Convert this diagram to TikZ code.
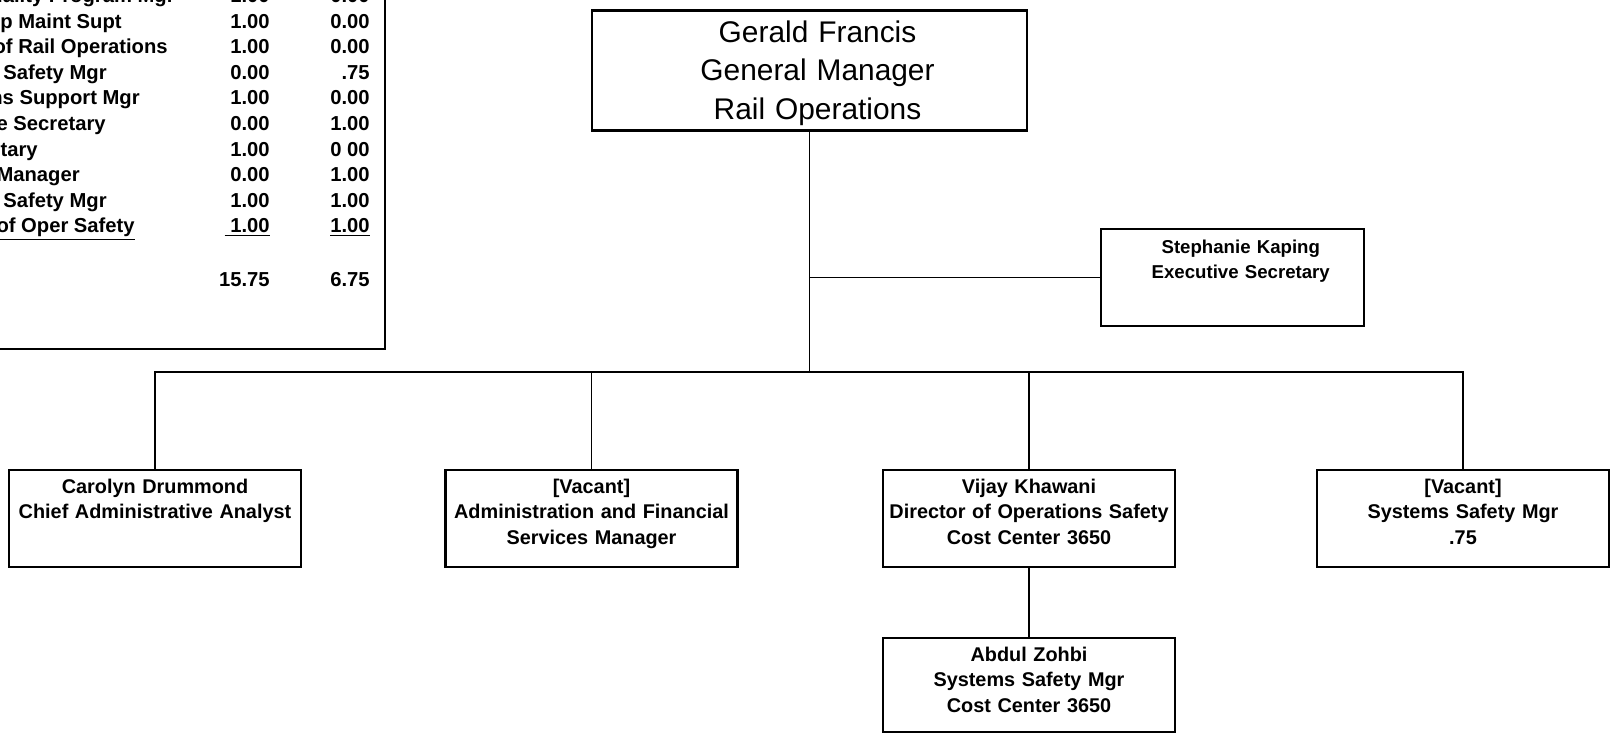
\documentclass[tikz,border=0pt]{standalone}
\usepackage{fontspec}
\setmainfont{Liberation Sans}

\begin{document}
\begin{tikzpicture}[x=0.2mm, y=-0.2mm,
  post/.style={draw, line width=1.2pt, inner xsep=0pt, inner ysep=0pt,
    text width=58.4mm, align=center, text height=4.6mm, text depth=14.8mm,
    font=\fontsize{11.3}{14.6}\selectfont\bfseries},
  cell/.style={inner sep=0pt, anchor=base east,
    font=\fontsize{11.5}{14}\selectfont\bfseries},
  link/.style={line width=0.8pt}]

  \useasboundingbox (0,0) rectangle (1610,732);
  \fill[white] (0,0) rectangle (1610,732);

  % staffing table, cut off at the page edge
  \draw[line width=1.4pt] (-20,-20) rectangle (385,349);
  \foreach \lbl/\xe/\va/\vb [count=\i from 0] in {
      uality Program Mgr/175/1.00/0.00,
      p Maint Supt/122/1.00/0.00,
      of Rail Operations/168/1.00/0.00,
      Safety Mgr/107/0.00/.75,
      ns Support Mgr/140/1.00/0.00,
      e Secretary/106/0.00/1.00,
      etary/38/1.00/0 00,
      Manager/80/0.00/1.00,
      Safety Mgr/107/1.00/1.00,
      \underline{of Oper Safety}/135/\underline{\ 1.00}/\underline{1.00}} {
    \pgfmathsetmacro\yb{2.4+25.6*\i}
    \node[cell] (lbl\i) at (\xe,\yb) {\lbl};
    \node[cell] (va\i) at (270,\yb) {\va};
    \node[cell] (vb\i) at (370,\yb) {\vb};
  }
  \node[cell] (tota) at (270,286) {15.75};
  \node[cell] (totb) at (370,286) {6.75};

  % chart
  \node[post, anchor=north, line width=1.5pt, text width=87mm,
    text height=6.4mm, text depth=17.6mm,
    font=\fontsize{17}{22}\selectfont] (gm) at (809.5,9)
    {\hspace*{3.2mm}Gerald Francis\\\hspace*{3.2mm}General Manager\\
     \hspace*{3.2mm}Rail Operations};

  \node[post, anchor=north, text width=52.6mm, text height=4.8mm,
    text depth=14.6mm, font=\fontsize{10.6}{14.2}\selectfont\bfseries]
    (steph) at (1232.5,228)
    {\hspace*{3.3mm}Stephanie Kaping\\\hspace*{3.3mm}Executive Secretary};

  \node[post, anchor=north] (carolyn) at (155,469)
    {Carolyn Drummond\\Chief Administrative Analyst};
  \node[post, anchor=north] (admin) at (591.5,469)
    {[Vacant]\\Administration and Financial\\Services Manager};
  \node[post, anchor=north] (vijay) at (1029,469)
    {Vijay Khawani\\Director of Operations Safety\\Cost Center 3650};
  \node[post, anchor=north] (vacant) at (1463,469)
    {[Vacant]\\Systems Safety Mgr\\.75};
  \node[post, anchor=north, text depth=14.2mm] (abdul) at (1029,637)
    {Abdul Zohbi\\Systems Safety Mgr\\Cost Center 3650};

  \coordinate (bus) at (809.5,372);
  \draw[link] (gm.south) -- (bus);
  \draw[link] (gm.south |- steph.west) -- (steph.west);
  \foreach \n in {carolyn, admin, vijay, vacant}
    \draw[link] (bus) -| (\n.north);
  \draw[link] (vijay.south) -- (abdul.north);

\end{tikzpicture}
\end{document}
